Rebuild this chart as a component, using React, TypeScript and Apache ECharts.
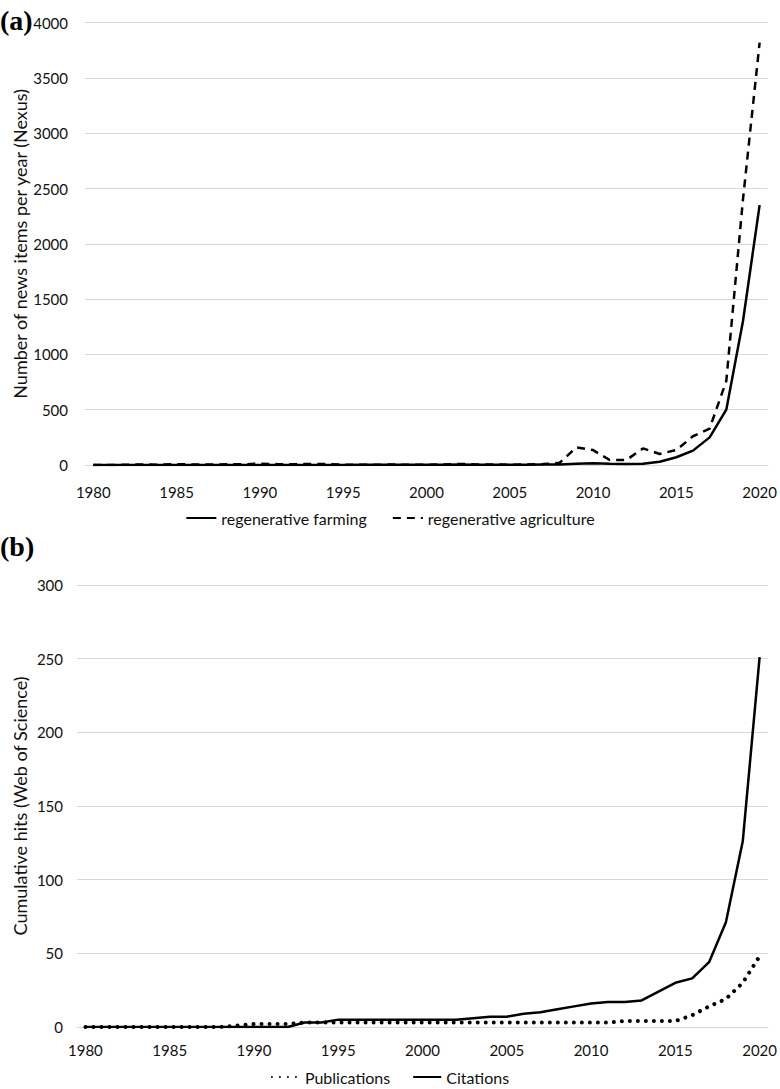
import React, { useEffect, useRef } from "react";
import * as echarts from "echarts";

const years: string[] = [];
for (let y = 1980; y <= 2020; y++) years.push(String(y));

// Panel (a): news items per year (Nexus)
const regenerativeFarming = [
  0, 0, 0, 1, 0, 1, 0, 1, 1, 0, 1, 1, 0, 1, 1, 0,
  2, 3, 3, 3, 3, 3, 4, 3, 3, 3, 3, 5, 5, 12,
  15, 12, 10, 12, 30, 70, 130, 250, 500, 1300, 2350,
];
const regenerativeAgriculture = [
  0, 0, 2, 5, 3, 8, 5, 4, 6, 6, 12, 8, 6, 10, 8, 3,
  2, 3, 4, 2, 3, 5, 10, 5, 4, 3, 4, 8, 20, 160,
  135, 45, 45, 150, 100, 135, 260, 330, 760, 2400, 3820,
];

// Panel (b): cumulative hits (Web of Science)
const publications = [
  0, 0, 0, 0, 0, 0, 0, 0, 0, 1, 2, 2, 2, 3, 3, 3,
  3, 3, 3, 3, 3, 3, 3, 3, 3, 3, 3, 3, 3, 3,
  3, 3, 4, 4, 4, 4, 8, 14, 19, 30, 48,
];
const citations = [
  0, 0, 0, 0, 0, 0, 0, 0, 0, 0, 0, 0, 0, 3, 3, 5,
  5, 5, 5, 5, 5, 5, 5, 6, 7, 7, 9, 10, 12, 14,
  16, 17, 17, 18, 24, 30, 33, 44, 71, 126, 251,
];

const FONT = "Lato, 'Noto Sans', sans-serif";
const TXT = "#111";
const GRID = "#d9d9d9";

export default function App() {
  const ref = useRef<HTMLDivElement>(null);
  useEffect(() => {
    if (!ref.current) return;
    const chart = echarts.init(ref.current, undefined, { renderer: "svg" });
    const xAxisBase = (gridIndex: number, margin: number) => ({
      type: "category" as const,
      gridIndex,
      data: years,
      boundaryGap: true,
      axisTick: { show: false },
      axisLine: { show: true, lineStyle: { color: GRID, width: 1 } },
      axisLabel: { interval: 4, color: TXT, fontSize: 15, fontFamily: FONT, margin },
      splitLine: { show: false },
    });
    const yAxisBase = (gridIndex: number, max: number, interval: number, name: string, nameGap: number, margin: number) => ({
      type: "value" as const,
      gridIndex,
      min: 0,
      max,
      interval,
      name,
      nameLocation: "middle" as const,
      nameGap,
      nameMoveOverlap: false,
      nameTextStyle: { color: TXT, fontSize: 18, fontFamily: FONT },
      axisLine: { show: false },
      axisTick: { show: false },
      axisLabel: {
        color: TXT,
        fontSize: 15,
        fontFamily: FONT,
        margin,
        formatter: (v: number) => String(v),
      },
      splitLine: { show: true, lineStyle: { color: GRID, width: 1 } },
    });
    chart.setOption({
      animation: false,
      backgroundColor: "#fff",
      textStyle: { fontFamily: FONT },
      grid: [
        { left: 85, right: 11, top: 22.7, height: 442.3 },
        { left: 77, right: 11, top: 584.8, height: 442.2 },
      ],
      xAxis: [xAxisBase(0, 19), xAxisBase(1, 15)],
      yAxis: [
        yAxisBase(0, 4000, 500, "Number of news items per year (Nexus)", 56, 17),
        yAxisBase(1, 300, 50, "Cumulative hits (Web of Science)", 48, 14),
      ],
      legend: [
        {
          data: ["regenerative farming", "regenerative agriculture"],
          top: 510,
          left: "center",
          padding: 0,
          itemWidth: 30,
          itemHeight: 14,
          itemGap: 25,
          itemStyle: { opacity: 0 },
          textStyle: { color: TXT, fontSize: 16, fontFamily: FONT },
        },
        {
          data: ["Publications", "Citations"],
          top: 1069,
          left: "center",
          padding: 0,
          itemWidth: 28,
          itemHeight: 14,
          itemGap: 22,
          itemStyle: { opacity: 0 },
          textStyle: { color: TXT, fontSize: 16, fontFamily: FONT },
        },
      ],
      graphic: [
        {
          type: "text",
          left: 0,
          top: 6,
          style: { text: "(a)", font: "bold 28px 'Liberation Serif', serif", fill: "#000" },
        },
        {
          type: "text",
          left: 0,
          top: 532,
          style: { text: "(b)", font: "bold 28px 'Liberation Serif', serif", fill: "#000" },
        },
      ],
      series: [
        {
          name: "regenerative farming",
          type: "line",
          xAxisIndex: 0,
          yAxisIndex: 0,
          data: regenerativeFarming,
          symbol: "none",
          lineStyle: { color: "#000", width: 2.5 },
          itemStyle: { color: "#000" },
        },
        {
          name: "regenerative agriculture",
          type: "line",
          xAxisIndex: 0,
          yAxisIndex: 0,
          data: regenerativeAgriculture,
          symbol: "none",
          lineStyle: { color: "#000", width: 2.5, type: [8, 6] },
          itemStyle: { color: "#000" },
        },
        {
          name: "Publications",
          type: "line",
          xAxisIndex: 1,
          yAxisIndex: 1,
          data: publications,
          symbol: "none",
          lineStyle: { color: "#000", width: 4, type: [0.01, 8], cap: "round" },
          itemStyle: { color: "#000" },
        },
        {
          name: "Citations",
          type: "line",
          xAxisIndex: 1,
          yAxisIndex: 1,
          data: citations,
          symbol: "none",
          lineStyle: { color: "#000", width: 2.5 },
          itemStyle: { color: "#000" },
        },
      ],
    });
    return () => chart.dispose();
  }, []);
  return (
    <div
      ref={ref}
      style={{ position: "absolute", left: 0, top: 0, width: 780, height: 1089, background: "#fff" }}
    />
  );
}
